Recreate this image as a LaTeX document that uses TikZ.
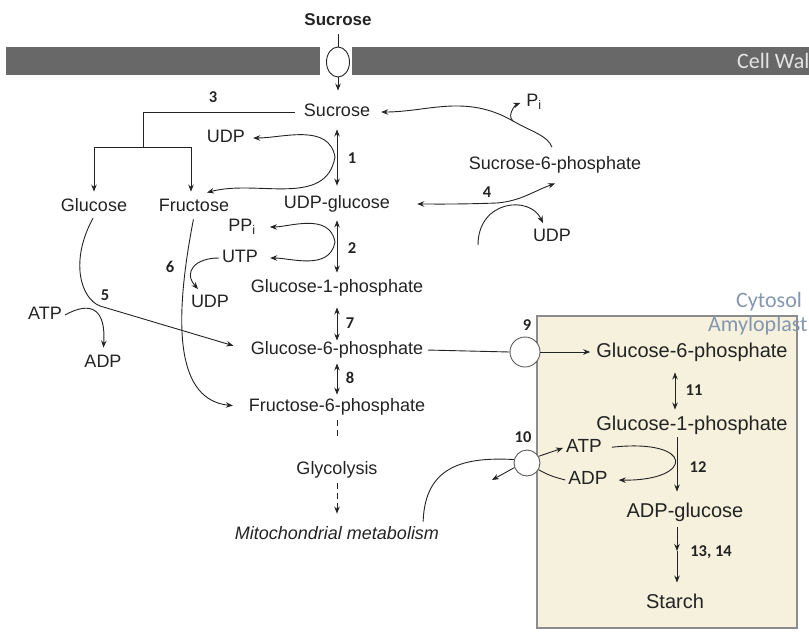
\documentclass[tikz,border=0pt]{standalone}
\usepackage{fontspec}
\setmainfont{Liberation Sans}
\newfontfamily\calfont{Carlito}
\usepackage{tikz}
\usetikzlibrary{arrows.meta, shapes.geometric, calc}
\definecolor{wallgray}{RGB}{104, 104, 104}
\definecolor{walltext}{RGB}{228, 228, 228}
\definecolor{amylofill}{RGB}{246, 241, 220}
\definecolor{amyloline}{RGB}{140, 140, 140}
\definecolor{labelblue}{RGB}{132, 151, 176}
\definecolor{inkcolor}{RGB}{35, 35, 35}

\begin{document}
\begin{tikzpicture}[x=1pt, y=-1pt,
    txt/.style={inkcolor, font=\fontsize{18}{20}\selectfont, inner xsep=3pt, inner ysep=1pt, text height=13pt, text depth=3.5pt},
    big/.style={inkcolor, font=\fontsize{20}{22}\selectfont, inner xsep=3pt, inner ysep=1pt, text height=14.5pt, text depth=4pt},
    num/.style={inkcolor, font=\fontsize{16.5}{18}\selectfont\calfont\bfseries, inner sep=1pt},
    ln/.style={inkcolor, line width=0.9pt},
    arr/.style={ln, -{Stealth[length=7pt, width=5.5pt]}},
    dbl/.style={ln, {Stealth[length=7pt, width=5.5pt]}-{Stealth[length=7pt, width=5.5pt]}},
    port/.style={circle, draw=inkcolor!75, line width=0.9pt, fill=white, inner sep=0pt}]
        \useasboundingbox (0,0) rectangle (809,637);

        % Zellwand mit Transporter
        \fill[wallgray] (6,47) rectangle (320,75);
        \fill[wallgray] (352,47) rectangle (809,75);
        \begin{scope}
            \clip (0,0) rectangle (809,637);
            \node[walltext, anchor=west, font=\fontsize{22}{24}\selectfont\calfont, inner sep=0pt] (wall) at (737,61) {Cell Wall};
        \end{scope}
        \node[txt, font=\fontsize{17}{19}\selectfont\bfseries] (sucout) at (338,21) {Sucrose};
        \node[ellipse, draw=inkcolor, line width=0.9pt, fill=white, minimum width=23pt, minimum height=30pt, inner sep=0pt] (tr) at (338,62) {};

        % Cytosol
        \node[txt] (suc) at (337,112) {Sucrose};
        \node[txt] (glc) at (94,207) {Glucose};
        \node[txt] (fru) at (194,207) {Fructose};
        \node[txt] (udpg) at (337,204) {UDP-glucose};
        \node[txt] (udpa) at (226,138) {UDP};
        \node[txt] (ppi) at (242,227) {PP\textsubscript{i}};
        \node[txt] (utp) at (240,258) {UTP};
        \node[txt] (udpb) at (210,303) {UDP};
        \node[txt] (g1p) at (337,288) {Glucose-1-phosphate};
        \node[txt] (atpa) at (45,315) {ATP};
        \node[txt] (adpa) at (103,363) {ADP};
        \node[txt] (g6p) at (337,350) {Glucose-6-phosphate};
        \node[txt] (f6p) at (337,407) {Fructose-6-phosphate};
        \node[txt] (glyc) at (337,470) {Glycolysis};
        \node[txt, font=\fontsize{18}{20}\selectfont\itshape] (mito) at (337,535) {Mitochondrial metabolism};
        \node[txt] (s6p) at (555,165) {Sucrose-6-phosphate};
        \node[txt] (pi) at (534,102) {P\textsubscript{i}};
        \node[txt] (udpc) at (552,237) {UDP};

        % Amyloplast
        \draw[amyloline, line width=1.5pt, fill=amylofill] (537,316) rectangle (797,628);
        \node[labelblue, font=\fontsize{22}{24}\selectfont\calfont, inner sep=0pt] (cyto) at (769,302) {Cytosol};
        \begin{scope}
            \clip (0,0) rectangle (809,637);
            \node[labelblue, anchor=west, font=\fontsize{22}{24}\selectfont\calfont, inner sep=0pt] (amylo) at (708,326) {Amyloplast};
        \end{scope}
        \node[big] (ag6p) at (692,352) {Glucose-6-phosphate};
        \node[big] (ag1p) at (692,425) {Glucose-1-phosphate};
        \node[big] (adpg) at (685,512) {ADP-glucose};
        \node[big] (starch) at (675,603) {Starch};
        \node[txt, font=\fontsize{19}{21}\selectfont] (atpb) at (584,448) {ATP};
        \node[txt, font=\fontsize{19}{21}\selectfont] (adpb) at (588,480) {ADP};
        \node[port, minimum size=30pt] (t9) at (525,352) {};
        \node[port, minimum size=26pt] (t10) at (527,463) {};

        % Enzymnummern
        \node[num] (r1) at (352,158) {1};
        \node[num] (r2) at (352,248) {2};
        \node[num] (r3) at (213,97) {3};
        \node[num] (r4) at (487,192) {4};
        \node[num] (r5) at (105,295) {5};
        \node[num] (r6) at (170,267) {6};
        \node[num] (r7) at (350,323) {7};
        \node[num] (r8) at (350,378) {8};
        \node[num] (r9) at (527,325) {9};
        \node[num] (r10) at (523,437) {10};
        \node[num] (r11) at (694,390) {11};
        \node[num] (r12) at (698,467) {12};
        \node[num] (r13) at (711,552) {13, 14};

        % Aufnahme durch die Zellwand
        \draw[ln, shorten <=4pt] (sucout.south) -- (tr.north);
        \draw[arr, shorten >=12pt] (tr.south) -- (tr.south |- suc.north);

        % 3: Invertase
        \coordinate (b3) at (143,147);
        \draw[ln, shorten <=6pt] (suc.west) -| (b3);
        \draw[arr, shorten >=6pt] (b3) -| (glc.north);
        \draw[arr, shorten >=6pt] (b3) -| ([xshift=-3pt]fru.north);

        % 1 und 2
        \draw[dbl, shorten <=8pt, shorten >=9pt] (suc.south) -- (udpg.north);
        \coordinate (j1) at (335,157);
        \draw[arr, shorten >=5pt] (j1) to[out=100, in=0] (udpa.east);
        \draw[arr] (j1) to[out=260, in=15] ([xshift=13pt, yshift=5pt]fru.north);
        \draw[dbl, shorten <=7pt, shorten >=6pt] (udpg.south) -- (g1p.north);
        \coordinate (j2) at (335,242);
        \draw[arr, shorten >=11pt] (j2) to[out=100, in=0] (ppi.east);
        \draw[arr, shorten >=9pt] (j2) to[out=260, in=0] (utp.east);

        % 6 und 5
        \draw[arr, shorten <=3pt, shorten >=13pt] (fru.south) .. controls (172,330) and (178,400) .. (f6p.west);
        \draw[arr, shorten >=6pt] (utp.west) .. controls (195,258) and (183,272) .. ([xshift=-8pt]udpb.north);
        \coordinate (j5) at (100,306);
        \draw[arr, shorten <=2pt, shorten >=15pt] (glc.south) .. controls (70,260) and (80,298) .. (j5) -- (g6p.west);
        \draw[arr, shorten >=6pt] (atpa.east) .. controls (92,300) and (106,310) .. (adpa.north);

        % 7, 8 und Glykolyse
        \draw[dbl, shorten <=10pt] (g1p.south) -- (g6p.north);
        \draw[dbl, shorten <=4pt, shorten >=3pt] (g6p.south) -- (f6p.north);
        \draw[ln, dash pattern=on 6pt off 4pt, shorten <=4pt, shorten >=23pt] (f6p.south) -- (glyc.north);
        \draw[arr, dash pattern=on 6pt off 4pt, shorten <=4pt, shorten >=12pt] (glyc.south) -- (mito.north);

        % 4: Saccharosephosphat-Synthase
        \coordinate (j4) at (497,203);
        \coordinate (u4) at (478,245);
        \draw[arr, shorten >=24pt] (j4) to[out=182, in=0] (udpg.east);
        \draw[arr] (j4) to[out=5, in=200] ([yshift=-9pt]s6p.south);
        \draw[arr, shorten >=5pt] (u4) .. controls (478,200) and (530,195) .. ([xshift=-7pt]udpc.north);
        \coordinate (jp) at (513,121);
        \draw[arr, shorten <=9pt, shorten >=8pt] (s6p.north) to[out=110, in=-30] (jp) to[out=150, in=0] (suc.east);
        \draw[arr, shorten >=3pt] (jp) to[out=140, in=200] (pi.west);

        % 9 bis 14
        \draw[ln, shorten <=2pt] (g6p.east) -- (t9.west);
        \draw[arr, shorten >=3pt] (t9.east) -- (ag6p.west);
        \draw[dbl, shorten <=10pt, shorten >=5pt] ([xshift=-17pt]ag6p.south) -- ([xshift=-17pt]ag1p.north);
        \draw[arr, shorten <=2pt, shorten >=10pt] ([xshift=-15pt]ag1p.south) -- ([xshift=-15pt]ag1p.south |- adpg.north);
        \draw[arr, shorten <=7pt, shorten >=8pt] (atpb.east) .. controls (695,438) and (695,481) .. (adpb.east);
        \draw[arr] (t10.30) -- (atpb.west);
        \draw[ln] (adpb.west) to[out=165, in=-30] (t10.-30);
        \coordinate (o10) at (492,480);
        \draw[arr] (t10.200) -- (o10);
        \draw[ln, shorten <=4pt] ([xshift=86pt]mito.north) .. controls (425,465) and (465,457) .. (t10.165);
        \coordinate (m13) at (677,551);
        \draw[arr, shorten <=5pt] (adpg.south -| m13) -- (m13);
        \draw[arr, shorten >=10pt] (m13) -- (m13 |- starch.north);
    \end{tikzpicture}
\end{document}
